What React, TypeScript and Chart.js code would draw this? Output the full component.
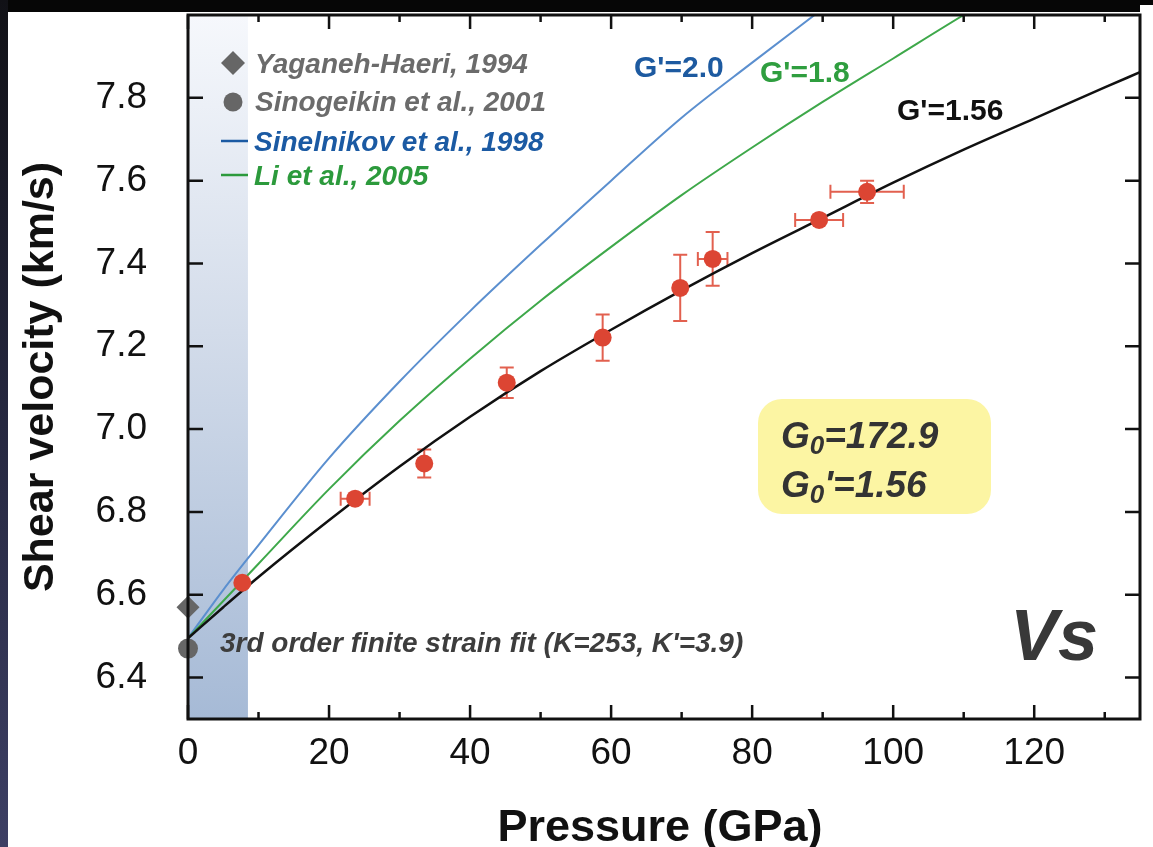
import React, { useEffect, useRef } from 'react';
import { Chart, registerables } from 'chart.js';

Chart.register(...registerables);

const W = 1153;
const H = 847;
const FONT = '"Liberation Sans", Arial, Helvetica, sans-serif';

// ---- axes ----
const xRange = [0, 135];
const yRange = [6.3, 8.0];
const xTickValues = [0, 20, 40, 60, 80, 100, 120];
const xMinorTickValues = [10, 30, 50, 70, 90, 110, 130];
const yTickValues = [6.4, 6.6, 6.8, 7.0, 7.2, 7.4, 7.6, 7.8];
const shadeRange = [0, 8.5];

// ---- measured data (this study) ----
const measPressure = [7.7, 23.7, 33.5, 45.2, 58.8, 69.8, 74.4, 89.5, 96.3];
const measVs = [6.629, 6.832, 6.917, 7.112, 7.221, 7.341, 7.411, 7.505, 7.573];
const measPressureErr = [0, 2.05, 0, 0, 0, 0, 2.1, 3.4, 5.2];
const measVsErr = [0, 0, 0.034, 0.037, 0.056, 0.08, 0.065, 0, 0.027];

// ---- ambient literature values ----
const yaganehPressure = [0];
const yaganehVs = [6.57];
const sinogeikinPressure = [0];
const sinogeikinVs = [6.47];

// ---- finite strain curves ----
const fitPressure = [0, 5, 10, 20, 30, 40, 50, 60, 70, 80, 90, 100, 110, 120, 130, 135];
const fitVs156 = [6.495, 6.57, 6.643, 6.78, 6.91, 7.03, 7.14, 7.24, 7.335, 7.425, 7.51, 7.595, 7.675, 7.75, 7.825, 7.862];
const liPressure = [0, 5, 10, 20, 30, 40, 50, 60, 70, 80, 90, 100, 110, 115];
const liVs18 = [6.495, 6.585, 6.675, 6.855, 7.02, 7.17, 7.31, 7.44, 7.565, 7.68, 7.79, 7.895, 8.0, 8.05];
const sinelPressure = [0, 5, 10, 20, 30, 40, 50, 60, 70, 80, 90, 95];
const sinelVs20 = [6.495, 6.612, 6.72, 6.93, 7.115, 7.285, 7.445, 7.6, 7.752, 7.885, 8.015, 8.08];

const toXY = (xs: number[], ys: number[]) => xs.map((x, i) => ({ x, y: ys[i] }));

const framePlugin = {
  id: 'frame',
  beforeDraw(chart: any) {
    const { ctx, width, height } = chart;
    ctx.save();
    ctx.fillStyle = '#ffffff';
    ctx.fillRect(0, 0, width, height);
    ctx.fillStyle = '#060606';
    ctx.fillRect(0, 0, 1140, 12);
    ctx.fillRect(1140, 0, width - 1140, 5);
    const g = ctx.createLinearGradient(0, 0, 0, height);
    g.addColorStop(0, '#111116');
    g.addColorStop(0.5, '#262840');
    g.addColorStop(1, '#3d3f64');
    ctx.fillStyle = g;
    ctx.fillRect(0, 0, 8, height);
    ctx.restore();
  },
};

const underlayPlugin = {
  id: 'underlay',
  beforeDatasetsDraw(chart: any) {
    const { ctx, chartArea: a, scales } = chart;
    const xs = scales.x;
    const ys = scales.y;
    ctx.save();
    // shaded low-pressure region
    const x0 = xs.getPixelForValue(shadeRange[0]);
    const x1 = xs.getPixelForValue(shadeRange[1]);
    const g = ctx.createLinearGradient(0, a.top, 0, a.bottom);
    g.addColorStop(0, '#f6f8fc');
    g.addColorStop(0.45, '#d3dcea');
    g.addColorStop(1, '#a6bad6');
    ctx.fillStyle = g;
    ctx.fillRect(x0, a.top, x1 - x0, a.bottom - a.top);

    // error bars
    ctx.strokeStyle = '#e2604f';
    ctx.lineWidth = 2;
    const cap = 7;
    measPressure.forEach((p, i) => {
      const v = measVs[i];
      const px = xs.getPixelForValue(p);
      const py = ys.getPixelForValue(v);
      const ep = measPressureErr[i];
      const ev = measVsErr[i];
      if (ep > 0) {
        const l = xs.getPixelForValue(p - ep);
        const r = xs.getPixelForValue(p + ep);
        ctx.beginPath();
        ctx.moveTo(l, py); ctx.lineTo(r, py);
        ctx.moveTo(l, py - cap); ctx.lineTo(l, py + cap);
        ctx.moveTo(r, py - cap); ctx.lineTo(r, py + cap);
        ctx.stroke();
      }
      if (ev > 0) {
        const t = ys.getPixelForValue(v + ev);
        const b = ys.getPixelForValue(v - ev);
        ctx.beginPath();
        ctx.moveTo(px, t); ctx.lineTo(px, b);
        ctx.moveTo(px - cap, t); ctx.lineTo(px + cap, t);
        ctx.moveTo(px - cap, b); ctx.lineTo(px + cap, b);
        ctx.stroke();
      }
    });
    ctx.restore();
  },
};

const overlayPlugin = {
  id: 'overlay',
  afterDraw(chart: any) {
    const { ctx, chartArea: a, scales } = chart;
    const xs = scales.x;
    const ys = scales.y;
    ctx.save();
    // axes box
    ctx.strokeStyle = '#111';
    ctx.lineWidth = 3;
    ctx.strokeRect(a.left, a.top, a.right - a.left, a.bottom - a.top);
    ctx.lineWidth = 2.5;
    ctx.beginPath();
    xTickValues.forEach((v) => {
      const px = xs.getPixelForValue(v);
      ctx.moveTo(px, a.bottom); ctx.lineTo(px, a.bottom - 14);
      ctx.moveTo(px, a.top); ctx.lineTo(px, a.top + 14);
    });
    xMinorTickValues.forEach((v) => {
      const px = xs.getPixelForValue(v);
      ctx.moveTo(px, a.bottom); ctx.lineTo(px, a.bottom - 7);
      ctx.moveTo(px, a.top); ctx.lineTo(px, a.top + 7);
    });
    yTickValues.forEach((v) => {
      const py = ys.getPixelForValue(v);
      ctx.moveTo(a.left, py); ctx.lineTo(a.left + 15, py);
      ctx.moveTo(a.right, py); ctx.lineTo(a.right - 15, py);
    });
    ctx.stroke();

    // axis titles
    ctx.fillStyle = '#111';
    ctx.font = `bold 45px ${FONT}`;
    ctx.textAlign = 'center';
    ctx.textBaseline = 'alphabetic';
    ctx.fillText('Pressure (GPa)', 660, 841);
    ctx.save();
    ctx.translate(53, 377);
    ctx.rotate(-Math.PI / 2);
    ctx.font = `bold 43px ${FONT}`;
    ctx.fillText('Shear velocity (km/s)', 0, 0);
    ctx.restore();

    // legend
    ctx.textAlign = 'left';
    ctx.font = `italic bold 28px ${FONT}`;
    ctx.fillStyle = '#666666';
    ctx.beginPath();
    ctx.moveTo(233, 63 - 12); ctx.lineTo(233 + 12, 63); ctx.lineTo(233, 63 + 12); ctx.lineTo(233 - 12, 63);
    ctx.closePath();
    ctx.fill();
    ctx.beginPath();
    ctx.arc(233, 102, 9.5, 0, Math.PI * 2);
    ctx.fill();
    ctx.fillStyle = '#6b6b6b';
    ctx.fillText('Yaganeh-Haeri, 1994', 255, 73);
    ctx.fillText('Sinogeikin et al., 2001', 255, 111);
    ctx.lineWidth = 2.5;
    ctx.strokeStyle = '#1b5aa3';
    ctx.beginPath(); ctx.moveTo(221, 141); ctx.lineTo(248, 141); ctx.stroke();
    ctx.fillStyle = '#1b5aa3';
    ctx.fillText('Sinelnikov et al., 1998', 254, 151);
    ctx.strokeStyle = '#2c9a3c';
    ctx.beginPath(); ctx.moveTo(221, 175); ctx.lineTo(248, 175); ctx.stroke();
    ctx.fillStyle = '#2c9a3c';
    ctx.fillText('Li et al., 2005', 254, 185);

    // curve labels
    ctx.font = `bold 30px ${FONT}`;
    ctx.fillStyle = '#1d5aa0';
    ctx.fillText("G'=2.0", 634, 77);
    ctx.fillStyle = '#2f9e3f';
    ctx.fillText("G'=1.8", 760, 82);
    ctx.fillStyle = '#111111';
    ctx.fillText("G'=1.56", 897, 120);

    // fit note
    ctx.font = `italic bold 28px ${FONT}`;
    ctx.fillStyle = '#3d3d3d';
    ctx.fillText("3rd order finite strain fit (K=253, K'=3.9)", 220, 652);

    // Vs
    ctx.font = `italic bold 72px ${FONT}`;
    ctx.fillStyle = '#383838';
    ctx.fillText('Vs', 1010, 660);

    // yellow box
    ctx.fillStyle = '#fcf5a3';
    ctx.beginPath();
    (ctx as any).roundRect(758, 399, 233, 115, 24);
    ctx.fill();
    ctx.fillStyle = '#333333';
    const drawG = (y: number, rest: string) => {
      let x = 781;
      ctx.font = `italic bold 37px ${FONT}`;
      ctx.fillText('G', x, y);
      x += ctx.measureText('G').width;
      ctx.font = `italic bold 26px ${FONT}`;
      ctx.fillText('0', x, y + 6);
      x += ctx.measureText('0').width;
      ctx.font = `italic bold 37px ${FONT}`;
      ctx.fillText(rest, x, y);
    };
    drawG(448, '=172.9');
    drawG(497, "'=1.56");
    ctx.restore();
  },
};

export default function App() {
  const ref = useRef<HTMLCanvasElement | null>(null);
  useEffect(() => {
    if (!ref.current) return;
    const chart = new Chart(ref.current, {
      type: 'scatter',
      data: {
        datasets: [
          {
            label: 'This study',
            data: toXY(measPressure, measVs),
            pointRadius: 9,
            pointHoverRadius: 9,
            backgroundColor: '#dc4533',
            borderWidth: 0,
            showLine: false,
          },
          {
            label: 'Yaganeh-Haeri, 1994',
            data: toXY(yaganehPressure, yaganehVs),
            pointStyle: 'rectRot',
            pointRadius: 11.5,
            backgroundColor: '#666666',
            borderWidth: 0,
            showLine: false,
            clip: false,
          },
          {
            label: 'Sinogeikin et al., 2001',
            data: toXY(sinogeikinPressure, sinogeikinVs),
            pointRadius: 10,
            backgroundColor: '#666666',
            borderWidth: 0,
            showLine: false,
            clip: false,
          },
          {
            label: "G'=1.56",
            data: toXY(fitPressure, fitVs156),
            showLine: true,
            pointRadius: 0,
            borderColor: '#111111',
            borderWidth: 2.5,
            cubicInterpolationMode: 'monotone',
          },
          {
            label: "G'=1.8",
            data: toXY(liPressure, liVs18),
            showLine: true,
            pointRadius: 0,
            borderColor: '#3ea84a',
            borderWidth: 2,
            cubicInterpolationMode: 'monotone',
          },
          {
            label: "G'=2.0",
            data: toXY(sinelPressure, sinelVs20),
            showLine: true,
            pointRadius: 0,
            borderColor: '#5b8fcf',
            borderWidth: 2,
            cubicInterpolationMode: 'monotone',
          },
        ],
      } as any,
      options: {
        responsive: false,
        animation: false,
        devicePixelRatio: 1,
        layout: { padding: { left: 0, top: 15, right: 13, bottom: 0 } },
        plugins: {
          legend: { display: false },
          tooltip: { enabled: false },
        },
        events: [],
        scales: {
          x: {
            type: 'linear',
            min: xRange[0],
            max: xRange[1],
            afterBuildTicks: (s: any) => {
              s.ticks = xTickValues.map((v) => ({ value: v }));
            },
            afterFit: (s: any) => {
              s.height = 128;
              s.paddingLeft = 0;
              s.paddingRight = 0;
              s.paddingTop = 0;
              s.paddingBottom = 0;
            },
            grid: { display: false, drawTicks: false },
            border: { display: false },
            ticks: {
              autoSkip: false,
              maxRotation: 0,
              padding: 13,
              color: '#111',
              font: { family: FONT, size: 37 },
              callback: (v: any) => String(v),
            },
          },
          y: {
            type: 'linear',
            min: yRange[0],
            max: yRange[1],
            afterBuildTicks: (s: any) => {
              s.ticks = yTickValues.map((v) => ({ value: v }));
            },
            afterFit: (s: any) => {
              s.width = 188;
              s.paddingLeft = 0;
              s.paddingRight = 0;
              s.paddingTop = 0;
              s.paddingBottom = 0;
            },
            grid: { display: false, drawTicks: false },
            border: { display: false },
            ticks: {
              autoSkip: false,
              padding: 41,
              color: '#111',
              font: { family: FONT, size: 37 },
              callback: (v: any) => Number(v).toFixed(1),
            },
          },
        },
      } as any,
      plugins: [framePlugin, underlayPlugin, overlayPlugin],
    });
    return () => chart.destroy();
  }, []);
  return (
    <canvas
      ref={ref}
      width={W}
      height={H}
      style={{ position: 'fixed', left: 0, top: 0, width: W, height: H, display: 'block' }}
    />
  );
}
